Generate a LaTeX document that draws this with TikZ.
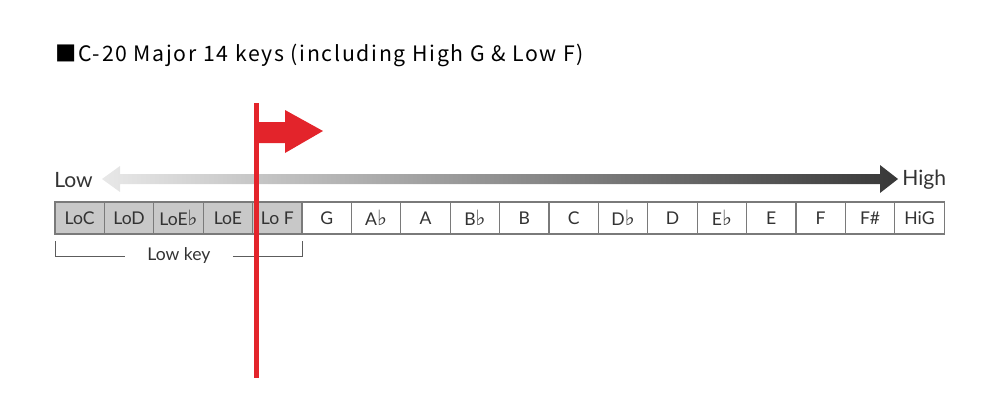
\documentclass[tikz,border=0pt]{standalone}
\usepackage{fontspec}
\setmainfont{Lato}
\newfontfamily\titlefont[LetterSpace=8]{Noto Sans CJK JP}
\newfontfamily\symfont{DejaVu Sans}
\usetikzlibrary{positioning}
\definecolor{flagRed}{HTML}{E3242B}
\definecolor{keyGray}{HTML}{C8C8C8}
\definecolor{keyEdge}{HTML}{7A7A7A}
\definecolor{ink}{HTML}{333333}
\newcommand{\fl}{{\symfont\fontsize{12}{10}\selectfont\char"266D}}

\begin{document}
\begin{tikzpicture}[
  x=0.02cm, y=-0.02cm,
  every node/.style={font=\fontsize{10}{11}\selectfont, color=ink},
  keybox/.style={
    rectangle, draw=keyEdge, line width=0.6pt, fill=white,
    minimum width=0.988cm, minimum height=0.64cm,
    inner sep=0pt, outer sep=0pt
  },
  lowkey/.style={keybox, fill=keyGray},
  bracket/.style={draw=ink!80, line width=0.5pt},
  sideLabel/.style={font=\fontsize{12}{13}\selectfont, anchor=west, inner sep=0pt}
]
\useasboundingbox (0,0) rectangle (1000,406);

% --- Title ---
\node[anchor=west, inner sep=0pt, color=black, font=\titlefont\fontsize{12.1}{13}\selectfont] (title) at (55,55) {■C-20 Major 14 keys (including High G \& Low F)};

% --- Low / High gradient arrow ---
\node[sideLabel] (low) at (54,180) {Low};
\node[sideLabel] (high) at (902,180) {High};
\shade[left color=black!9, right color=black!78]
  (102,179) -- (120,166) -- (120,174) -- (880,174) -- (880,165) -- (898,179)
  -- (880,193) -- (880,184) -- (120,184) -- (120,192) -- cycle;

% --- Keys ---
\foreach \lab [count=\i] in {LoC, LoD, LoE\fl, LoE, Lo F}
  \node[lowkey] (k\i) at ({55+49.4*(\i-0.5)},218) {\lab};
\foreach \lab [count=\i from 6] in {G, A\fl, A, B\fl, B, C, D\fl, D, E\fl, E, F, F\#, HiG}
  \node[keybox] (k\i) at ({55+49.4*(\i-0.5)},218) {\lab};

% --- Low key bracket ---
\node[inner xsep=0.44cm, inner ysep=0pt] (lowlbl) at (179,256) {Low key};
\draw[bracket] (k1.south west |- 0,241) -- (k1.south west |- lowlbl.center) -- (lowlbl.west);
\draw[bracket] (lowlbl.east) -- (k5.south east |- lowlbl.center) -- (k5.south east |- 0,241);

% --- Red marker flag ---
\coordinate (poleTop) at (256,103);
\coordinate (poleFoot) at (256,378);
\draw[flagRed, line width=2.85pt] (poleTop) -- (poleFoot);
\fill[flagRed] (256,122) -- (285,122) -- (285,110) -- (323,131)
  -- (285,153) -- (285,143) -- (256,143) -- cycle;

\end{tikzpicture}
\end{document}
